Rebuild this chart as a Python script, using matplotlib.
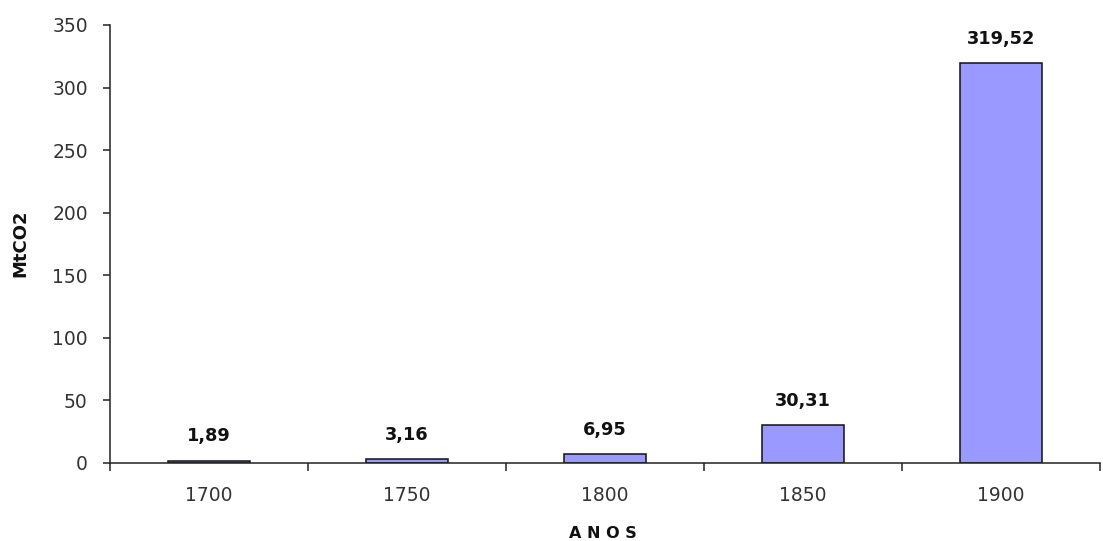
import matplotlib
matplotlib.use("Agg")
import matplotlib.pyplot as plt
from matplotlib.ticker import FixedLocator, NullFormatter, FixedFormatter

years = ["1700", "1750", "1800", "1850", "1900"]
emissions = [1.89, 3.16, 6.95, 30.31, 319.52]
value_labels = ["1,89", "3,16", "6,95", "30,31", "319,52"]
y_ticks = [0, 50, 100, 150, 200, 250, 300, 350]

plt.rcParams["font.family"] = ["DejaVu Sans"]

W, H = 1103, 541
fig = plt.figure(figsize=(W / 100, H / 100), dpi=100, facecolor="white")
ax = fig.add_axes([110 / W, 1 - 463 / H, (1100 - 110) / W, (463 - 25) / H])

x = list(range(len(years)))
ax.bar(x, emissions, width=0.41, color="#9999FF", edgecolor="#111111",
       linewidth=1.1, zorder=2)

for xi, v, lab in zip(x, emissions, value_labels):
    ax.annotate(lab, (xi, v), xytext=(0, 17.5), textcoords="offset points",
                ha="center", va="center", fontsize=12.8, fontweight="bold",
                color="#111111")

ax.set_xlim(-0.5, len(years) - 0.5)
ax.set_ylim(0, 350)
ax.set_yticks(y_ticks)
ax.set_yticklabels([str(t) for t in y_ticks])

# category boundaries carry the tick marks, centres carry the labels
ax.xaxis.set_major_locator(FixedLocator([i - 0.5 for i in range(len(years) + 1)]))
ax.xaxis.set_major_formatter(NullFormatter())
ax.xaxis.set_minor_locator(FixedLocator(x))
ax.xaxis.set_minor_formatter(FixedFormatter(years))
ax.tick_params(axis="x", which="major", direction="out", length=6, width=1.1,
               color="#222222")
ax.tick_params(axis="x", which="minor", length=0, pad=16.5, labelsize=13.5,
               labelcolor="#333333")
ax.tick_params(axis="y", direction="out", length=5, width=1.1, pad=11,
               labelsize=13.5, labelcolor="#333333", color="#222222")

for side in ("top", "right"):
    ax.spines[side].set_visible(False)
for side in ("left", "bottom"):
    ax.spines[side].set_linewidth(1.1)
    ax.spines[side].set_color("#222222")

fig.text(20 / W, 1 - 243 / H, "MtCO2", rotation=90, ha="center", va="center",
         fontsize=13, fontweight="bold", color="#111111")
fig.text(603 / W, 1 - 533 / H, "A N O S", ha="center", va="center",
         fontsize=11.5, fontweight="bold", color="#111111")

fig.savefig("out.png", dpi=100, facecolor="white")
